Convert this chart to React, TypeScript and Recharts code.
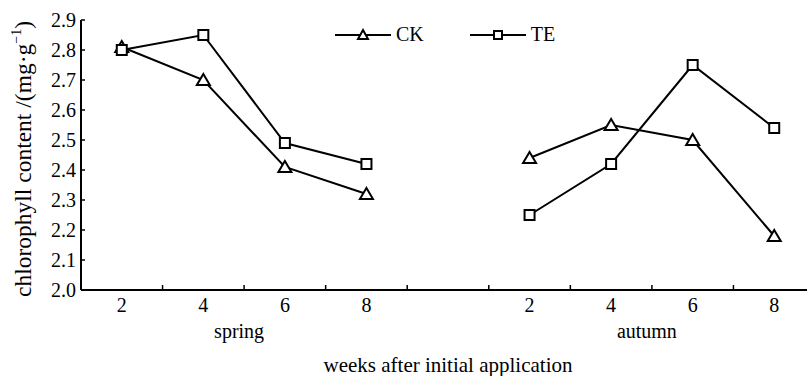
import { ComposedChart, Line, XAxis, YAxis, Legend } from 'recharts'

const FONT = '"Liberation Serif", "Times New Roman", serif'

// x categories: spring weeks, an empty slot, autumn weeks
const categories = ['s2', 's4', 's6', 's8', 'gap', 'a2', 'a4', 'a6', 'a8']
const weekLabels = ['2', '4', '6', '8', '', '2', '4', '6', '8']
const ckValues = [2.81, 2.7, 2.41, 2.32, null, 2.44, 2.55, 2.5, 2.18]
const teValues = [2.8, 2.85, 2.49, 2.42, null, 2.25, 2.42, 2.75, 2.54]

const yTicks = [2.0, 2.1, 2.2, 2.3, 2.4, 2.5, 2.6, 2.7, 2.8, 2.9]
// season label sits on the band edge right after this category index
const seasonNames = ['spring', 'autumn']
const seasonAfter = [1, 6]

const data = categories.map((c, i) => ({
  key: c,
  CK: ckValues[i],
  TE: teValues[i],
}))

const TICK_GAP = 8

const WeekTick = (props: any) => {
  const { x, y, payload, index, width, visibleTicksCount } = props
  let half = payload && typeof payload.offset === 'number' ? payload.offset : 0
  if (!half && width && visibleTicksCount) half = width / visibleTicksCount / 2
  const axisY = y - TICK_GAP
  const s = seasonAfter.indexOf(index)
  return (
    <g>
      {index > 0 && (
        <line x1={x - half} x2={x - half} y1={axisY} y2={axisY - 5} stroke="#000" strokeWidth={1.5} />
      )}
      <text x={x} y={y} dy="0.71em" textAnchor="middle" fontFamily={FONT} fontSize={20} fill="#000">
        {weekLabels[index]}
      </text>
      {s >= 0 && (
        <text x={x + half - 5} y={y + 26} dy="0.71em" textAnchor="middle" fontFamily={FONT} fontSize={20} fill="#000">
          {seasonNames[s]}
        </text>
      )}
    </g>
  )
}

const TriangleDot = (props: any) => {
  const { cx, cy, value, index } = props
  if (cx == null || cy == null || value == null) return <g key={index} />
  return (
    <path
      key={index}
      d={`M${cx},${cy - 6} L${cx + 6.5},${cy + 5} L${cx - 6.5},${cy + 5} Z`}
      fill="#fff"
      stroke="#000"
      strokeWidth={2}
    />
  )
}

const SquareDot = (props: any) => {
  const { cx, cy, value, index } = props
  if (cx == null || cy == null || value == null) return <g key={index} />
  return <rect key={index} x={cx - 5} y={cy - 5} width={10} height={10} fill="#fff" stroke="#000" strokeWidth={2} />
}

const renderLegend = (props: any) => {
  const { payload = [] } = props
  return (
    <div style={{ display: 'flex', alignItems: 'center', fontFamily: FONT, fontSize: 20, color: '#000' }}>
      {payload.map((item: any, i: number) => (
        <div key={item.value} style={{ display: 'flex', alignItems: 'center', marginRight: i === 0 ? 46 : 0 }}>
          <svg width={56} height={16}>
            <line x1={0} y1={8} x2={56} y2={8} stroke="#000" strokeWidth={2} />
            {item.value === 'CK' ? (
              <path d="M28,3 L33,12 L23,12 Z" fill="#fff" stroke="#000" strokeWidth={2} />
            ) : (
              <rect x={24} y={4} width={8} height={8} fill="#fff" stroke="#000" strokeWidth={2} />
            )}
          </svg>
          <span style={{ marginLeft: 5 }}>{item.value}</span>
        </div>
      ))}
    </div>
  )
}

const YTitle = (props: any) => {
  const { viewBox } = props
  const cx = 23
  const cy = viewBox.y + viewBox.height / 2 + 4
  return (
    <text
      x={cx}
      y={cy}
      transform={`rotate(-90 ${cx} ${cy})`}
      textAnchor="middle"
      dominantBaseline="central"
      fontFamily={FONT}
      fontSize={23.5}
      fill="#000"
    >
      chlorophyll content /(mg·g
      <tspan dy={-7} fontSize={14}>−1</tspan>
      <tspan dy={7}>)</tspan>
    </text>
  )
}

export default function App() {
  const tickStyle = { fontFamily: FONT, fontSize: 20, fill: '#000' }
  return (
    <div
      style={{
        position: 'absolute',
        left: 0,
        top: 0,
        width: 807,
        height: 376,
        overflow: 'hidden',
        background: '#fff',
        fontFamily: FONT,
      }}
    >
      <ComposedChart width={815} height={376} data={data} margin={{ top: 20, right: 0, bottom: 0, left: 0 }}>
        <XAxis
          dataKey="key"
          scale="band"
          interval={0}
          tick={WeekTick}
          tickSize={0}
          tickMargin={TICK_GAP}
          tickLine={false}
          axisLine={{ stroke: '#000', strokeWidth: 2 }}
          height={86}
          label={{
            value: 'weeks after initial application',
            position: 'insideBottom',
            offset: 4,
            style: { fontFamily: FONT, fontSize: 21, fill: '#000' },
          }}
        />
        <YAxis
          domain={[2.0, 2.9]}
          ticks={yTicks}
          interval={0}
          width={81}
          tickFormatter={(v: number) => v.toFixed(1)}
          tick={tickStyle}
          tickSize={-4}
          tickMargin={9}
          tickLine={{ stroke: '#000', strokeWidth: 1.5 }}
          axisLine={{ stroke: '#000', strokeWidth: 2 }}
          label={{ content: YTitle }}
        />
        <Legend
          content={renderLegend}
          verticalAlign="middle"
          layout="horizontal"
          wrapperStyle={{ top: 23, left: 335, width: 'auto' }}
        />
        <Line
          dataKey="CK"
          name="CK"
          stroke="#000"
          strokeWidth={2}
          dot={TriangleDot}
          activeDot={false}
          isAnimationActive={false}
        />
        <Line
          dataKey="TE"
          name="TE"
          stroke="#000"
          strokeWidth={2}
          dot={SquareDot}
          activeDot={false}
          isAnimationActive={false}
        />
      </ComposedChart>
    </div>
  )
}
